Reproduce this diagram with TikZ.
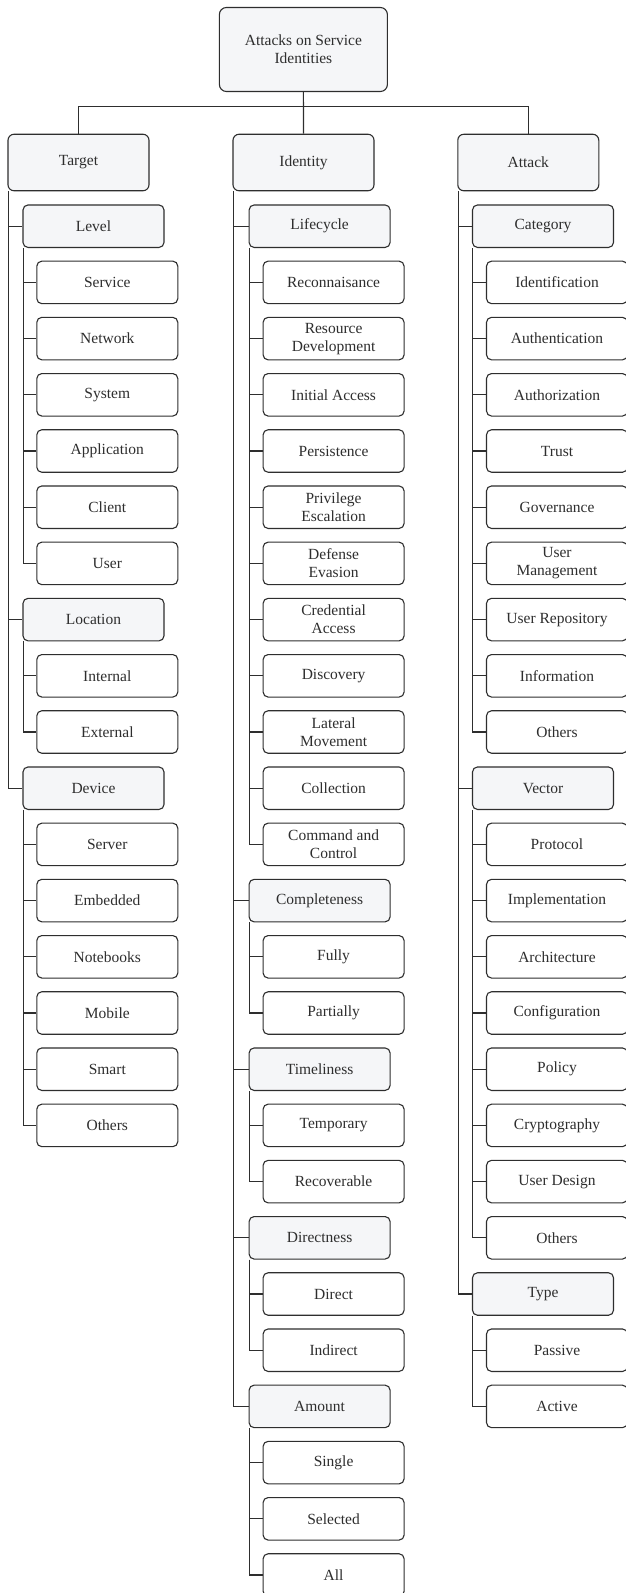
\documentclass[tikz,border=0pt]{standalone}
\usepackage{fontspec}
\setmainfont{Liberation Serif}
\usepackage{tikz}
\definecolor{boxfill}{HTML}{F5F6F8}
\definecolor{ink}{HTML}{2E2E2E}

\begin{document}
\begin{tikzpicture}[x=1pt, y=-1pt,
				every node/.style={font=\fontsize{15.5}{18}\selectfont, text=ink, align=center},
				rootbox/.style={rectangle, rounded corners=7pt, draw=ink, line width=1.1pt, fill=boxfill, minimum width=168pt, minimum height=84pt},
				dimension/.style={rectangle, rounded corners=6pt, draw=ink, line width=1.1pt, fill=boxfill, minimum width=141pt, minimum height=56.5pt},
				category/.style={rectangle, rounded corners=5pt, draw=ink, line width=1.1pt, fill=boxfill, minimum width=141pt, minimum height=42.5pt},
				item/.style={rectangle, rounded corners=5pt, draw=ink, line width=1.1pt, fill=white, minimum width=141pt, minimum height=42.5pt},
				link/.style={draw=ink, line width=1.1pt}]
	\useasboundingbox (0,0) rectangle (626,1593);
	\node[rootbox] (Root) at (303.4,49.5) {Attacks on Service\\Identities};
	\node[dimension] (Target) at (78.5,162.5) {Target};
	\node[dimension] (Identity) at (303.5,162.5) {Identity};
	\node[dimension] (Attack) at (528.3,162.5) {Attack};
	% target
	\node[category] (Level) at (93.5,226.2) {Level};
	\node[item] (Service) at (107.3,282.4) {Service};
	\node[item] (Network) at (107.3,338.6) {Network};
	\node[item] (System) at (107.3,394.8) {System};
	\node[item] (Application) at (107.3,451.0) {Application};
	\node[item] (Client) at (107.3,507.2) {Client};
	\node[item] (User) at (107.3,563.4) {User};
	\node[category] (Location) at (93.5,619.6) {Location};
	\node[item] (Internal) at (107.3,675.8) {Internal};
	\node[item] (External) at (107.3,732.0) {External};
	\node[category] (Device) at (93.5,788.2) {Device};
	\node[item] (Server) at (107.3,844.4) {Server};
	\node[item] (Embedded) at (107.3,900.6) {Embedded};
	\node[item] (Notebooks) at (107.3,956.8) {Notebooks};
	\node[item] (Mobile) at (107.3,1013.0) {Mobile};
	\node[item] (Smart) at (107.3,1069.2) {Smart};
	\node[item] (DOthers) at (107.3,1125.4) {Others};
	% identity
	\node[category] (Lifecycle) at (319.6,226.2) {Lifecycle};
	\node[item] (Recon) at (333.6,282.4) {Reconnaisance};
	\node[item] (ResDev) at (333.6,338.6) {Resource\\Development};
	\node[item] (InitAcc) at (333.6,394.8) {Initial Access};
	\node[item] (Persist) at (333.6,451.0) {Persistence};
	\node[item] (PrivEsc) at (333.6,507.2) {Privilege\\Escalation};
	\node[item] (DefEva) at (333.6,563.4) {Defense\\Evasion};
	\node[item] (CredAcc) at (333.6,619.6) {Credential\\Access};
	\node[item] (Discovery) at (333.6,675.8) {Discovery};
	\node[item] (LatMov) at (333.6,732.0) {Lateral\\Movement};
	\node[item] (Collection) at (333.6,788.2) {Collection};
	\node[item] (CmdCtrl) at (333.6,844.4) {Command and\\Control};
	\node[category] (Completeness) at (319.6,900.6) {Completeness};
	\node[item] (Fully) at (333.6,956.8) {Fully};
	\node[item] (Partially) at (333.6,1013.0) {Partially};
	\node[category] (Timeliness) at (319.6,1069.2) {Timeliness};
	\node[item] (Temporary) at (333.6,1125.4) {Temporary};
	\node[item] (Recoverable) at (333.6,1181.6) {Recoverable};
	\node[category] (Directness) at (319.6,1237.8) {Directness};
	\node[item] (Direct) at (333.6,1294.0) {Direct};
	\node[item] (Indirect) at (333.6,1350.2) {Indirect};
	\node[category] (Amount) at (319.6,1406.4) {Amount};
	\node[item] (Single) at (333.6,1462.6) {Single};
	\node[item] (Selected) at (333.6,1518.8) {Selected};
	\node[item] (All) at (333.6,1575.0) {All};
	% attack
	\node[category] (Category) at (543,226.2) {Category};
	\node[item] (Identification) at (557,282.4) {Identification};
	\node[item] (Authentication) at (557,338.6) {Authentication};
	\node[item] (Authorization) at (557,394.8) {Authorization};
	\node[item] (Trust) at (557,451.0) {Trust};
	\node[item] (Governance) at (557,507.2) {Governance};
	\node[item] (UserMgmt) at (557,563.4) {User\\Management};
	\node[item] (UserRepo) at (557,619.6) {User Repository};
	\node[item] (Information) at (557,675.8) {Information};
	\node[item] (COthers) at (557,732.0) {Others};
	\node[category] (Vector) at (543,788.2) {Vector};
	\node[item] (Protocol) at (557,844.4) {Protocol};
	\node[item] (Implementation) at (557,900.6) {Implementation};
	\node[item] (Architecture) at (557,956.8) {Architecture};
	\node[item] (Configuration) at (557,1013.0) {Configuration};
	\node[item] (Policy) at (557,1069.2) {Policy};
	\node[item] (Cryptography) at (557,1125.4) {Cryptography};
	\node[item] (UserDesign) at (557,1181.6) {User Design};
	\node[item] (VOthers) at (557,1237.8) {Others};
	\node[category] (Type) at (543,1294.0) {Type};
	\node[item] (Passive) at (557,1350.2) {Passive};
	\node[item] (Active) at (557,1406.4) {Active};
	% top level links
	\coordinate (J) at (303.4,106.7);
	\draw[link] (Root) -- (Identity);
	\draw[link] (Target.north) |- (J) -| (Attack.north);
	% target links
	\draw[link] ([xshift=1pt]Target.south west) |- (Level.west);
	\draw[link] ([xshift=1pt]Target.south west) |- (Location.west);
	\draw[link] ([xshift=1pt]Target.south west) |- (Device.west);
	\draw[link] ([xshift=0.8pt]Level.south west) |- (Service.west);
	\draw[link] ([xshift=0.8pt]Level.south west) |- (Network.west);
	\draw[link] ([xshift=0.8pt]Level.south west) |- (System.west);
	\draw[link] ([xshift=0.8pt]Level.south west) |- (Application.west);
	\draw[link] ([xshift=0.8pt]Level.south west) |- (Client.west);
	\draw[link] ([xshift=0.8pt]Level.south west) |- (User.west);
	\draw[link] ([xshift=0.8pt]Location.south west) |- (Internal.west);
	\draw[link] ([xshift=0.8pt]Location.south west) |- (External.west);
	\draw[link] ([xshift=0.8pt]Device.south west) |- (Server.west);
	\draw[link] ([xshift=0.8pt]Device.south west) |- (Embedded.west);
	\draw[link] ([xshift=0.8pt]Device.south west) |- (Notebooks.west);
	\draw[link] ([xshift=0.8pt]Device.south west) |- (Mobile.west);
	\draw[link] ([xshift=0.8pt]Device.south west) |- (Smart.west);
	\draw[link] ([xshift=0.8pt]Device.south west) |- (DOthers.west);
	% identity links
	\draw[link] ([xshift=1pt]Identity.south west) |- (Lifecycle.west);
	\draw[link] ([xshift=1pt]Identity.south west) |- (Completeness.west);
	\draw[link] ([xshift=1pt]Identity.south west) |- (Timeliness.west);
	\draw[link] ([xshift=1pt]Identity.south west) |- (Directness.west);
	\draw[link] ([xshift=1pt]Identity.south west) |- (Amount.west);
	\draw[link] ([xshift=0.8pt]Lifecycle.south west) |- (Recon.west);
	\draw[link] ([xshift=0.8pt]Lifecycle.south west) |- (ResDev.west);
	\draw[link] ([xshift=0.8pt]Lifecycle.south west) |- (InitAcc.west);
	\draw[link] ([xshift=0.8pt]Lifecycle.south west) |- (Persist.west);
	\draw[link] ([xshift=0.8pt]Lifecycle.south west) |- (PrivEsc.west);
	\draw[link] ([xshift=0.8pt]Lifecycle.south west) |- (DefEva.west);
	\draw[link] ([xshift=0.8pt]Lifecycle.south west) |- (CredAcc.west);
	\draw[link] ([xshift=0.8pt]Lifecycle.south west) |- (Discovery.west);
	\draw[link] ([xshift=0.8pt]Lifecycle.south west) |- (LatMov.west);
	\draw[link] ([xshift=0.8pt]Lifecycle.south west) |- (Collection.west);
	\draw[link] ([xshift=0.8pt]Lifecycle.south west) |- (CmdCtrl.west);
	\draw[link] ([xshift=0.8pt]Completeness.south west) |- (Fully.west);
	\draw[link] ([xshift=0.8pt]Completeness.south west) |- (Partially.west);
	\draw[link] ([xshift=0.8pt]Timeliness.south west) |- (Temporary.west);
	\draw[link] ([xshift=0.8pt]Timeliness.south west) |- (Recoverable.west);
	\draw[link] ([xshift=0.8pt]Directness.south west) |- (Direct.west);
	\draw[link] ([xshift=0.8pt]Directness.south west) |- (Indirect.west);
	\draw[link] ([xshift=0.8pt]Amount.south west) |- (Single.west);
	\draw[link] ([xshift=0.8pt]Amount.south west) |- (Selected.west);
	\draw[link] ([xshift=0.8pt]Amount.south west) |- (All.west);
	% attack links
	\draw[link] ([xshift=1pt]Attack.south west) |- (Category.west);
	\draw[link] ([xshift=1pt]Attack.south west) |- (Vector.west);
	\draw[link] ([xshift=1pt]Attack.south west) |- (Type.west);
	\draw[link] ([xshift=0.8pt]Category.south west) |- (Identification.west);
	\draw[link] ([xshift=0.8pt]Category.south west) |- (Authentication.west);
	\draw[link] ([xshift=0.8pt]Category.south west) |- (Authorization.west);
	\draw[link] ([xshift=0.8pt]Category.south west) |- (Trust.west);
	\draw[link] ([xshift=0.8pt]Category.south west) |- (Governance.west);
	\draw[link] ([xshift=0.8pt]Category.south west) |- (UserMgmt.west);
	\draw[link] ([xshift=0.8pt]Category.south west) |- (UserRepo.west);
	\draw[link] ([xshift=0.8pt]Category.south west) |- (Information.west);
	\draw[link] ([xshift=0.8pt]Category.south west) |- (COthers.west);
	\draw[link] ([xshift=0.8pt]Vector.south west) |- (Protocol.west);
	\draw[link] ([xshift=0.8pt]Vector.south west) |- (Implementation.west);
	\draw[link] ([xshift=0.8pt]Vector.south west) |- (Architecture.west);
	\draw[link] ([xshift=0.8pt]Vector.south west) |- (Configuration.west);
	\draw[link] ([xshift=0.8pt]Vector.south west) |- (Policy.west);
	\draw[link] ([xshift=0.8pt]Vector.south west) |- (Cryptography.west);
	\draw[link] ([xshift=0.8pt]Vector.south west) |- (UserDesign.west);
	\draw[link] ([xshift=0.8pt]Vector.south west) |- (VOthers.west);
	\draw[link] ([xshift=0.8pt]Type.south west) |- (Passive.west);
	\draw[link] ([xshift=0.8pt]Type.south west) |- (Active.west);
\end{tikzpicture}
\end{document}
